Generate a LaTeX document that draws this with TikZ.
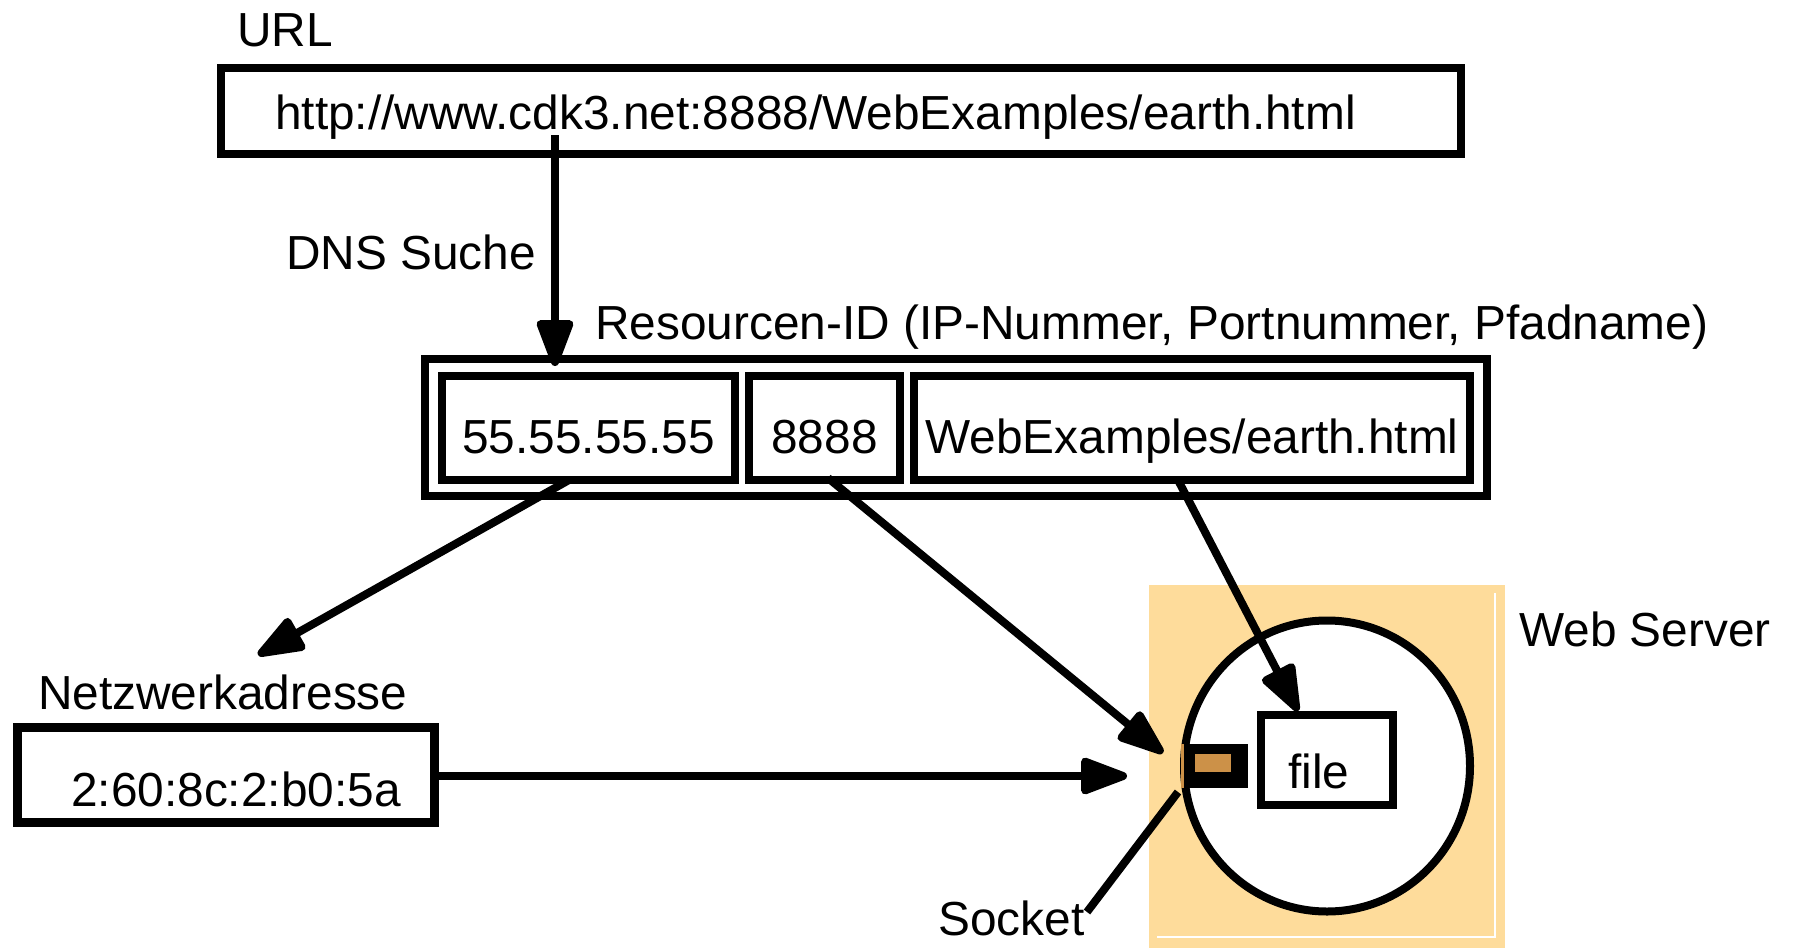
\documentclass[tikz,border=0pt]{standalone}
\usepackage{fontspec}
\setmainfont{Liberation Sans}
\usetikzlibrary{arrows.meta}
\definecolor{serverbg}{RGB}{254,220,155}
\definecolor{sockbrown}{RGB}{204,145,72}
\begin{document}
\begin{tikzpicture}[x=1pt,y=-1pt,
  txt/.style={font=\fontsize{47.8}{56}\selectfont, inner sep=0pt},
  lbl/.style={txt, anchor=base west},
  box/.style={draw, line width=8pt, inner sep=0pt, fill=white, rectangle},
  cell/.style={box, txt, minimum height=104pt, text height=50pt, text depth=0pt},
  conn/.style={line width=8pt, -{Triangle[length=54pt,width=38pt,round]}},
  plain/.style={line width=8pt}]
\useasboundingbox (0,0) rectangle (1794,948);

% web server area
\fill[serverbg] (1149,585) rectangle (1505,948);
\draw[white, line width=1.5pt] (1495,593) -- (1495,937) -- (1157,937);
\node[lbl] (wslabel) at (1519,646) {Web Server};
\draw[line width=8pt, fill=white] (1327,766) ellipse [x radius=143, y radius=145.5];
\node[box, minimum width=132pt, minimum height=90pt] (file) at (1327,760) {};
\node[lbl] (filetext) at (1288,788) {file};
\fill[black] (1181,744) rectangle (1248,788);
\fill[sockbrown] (1181,744) rectangle (1184,788);
\fill[sockbrown] (1195,754) rectangle (1231,772);
\coordinate (sock) at (1178,792);
\node[lbl] (socklabel) at (938,935) {Socket};
\coordinate (sockend) at (1087,912);
\draw[plain] (sock) -- (sockend);

% URL
\node[lbl] (urllabel) at (237,46) {URL};
\node[box, minimum width=1240pt, minimum height=86pt] (url) at (841,111) {};
\node[lbl] (urltext) at (275,129) {http://www.cdk3.net:8888/WebExamples/earth.html};
\node[lbl] (dns) at (286,269) {DNS Suche};

% resource id
\node[lbl] (reslabel) at (595,339) {Resourcen-ID (IP-Nummer, Portnummer, Pfadname)};
\node[box, minimum width=1062pt, minimum height=137pt] (res) at (956,427.5) {};
\node[cell, minimum width=293pt] (ip) at (588.5,428) {55.55.55.55};
\node[cell, minimum width=151pt] (port) at (824.5,428) {8888};
\node[cell, minimum width=556pt] (path) at (1192,428) {WebExamples/earth.html};

% network address
\node[lbl] (netlabel) at (38,709) {Netzwerkadresse};
\node[box, line width=9pt, minimum width=417pt, minimum height=95pt] (net) at (226,775) {};
\node[lbl] (nettext) at (71,806) {2:60:8c:2:b0:5a};

% connectors
\coordinate (dnsA) at (555,135);
\coordinate (dnsB) at (555,366);
\draw[conn] (dnsA) -- (dnsB);
\coordinate (ipA) at (569,480);
\coordinate (ipB) at (258,655);
\draw[conn] (ipA) -- (ipB);
\coordinate (portA) at (828,478);
\coordinate (portB) at (1163,753);
\draw[conn] (portA) -- (portB);
\coordinate (pathA) at (1178,480);
\coordinate (pathB) at (1298,711);
\draw[conn] (pathA) -- (pathB);
\coordinate (netA) at (432,776);
\coordinate (netB) at (1127,776);
\draw[conn] (netA) -- (netB);
\end{tikzpicture}
\end{document}
